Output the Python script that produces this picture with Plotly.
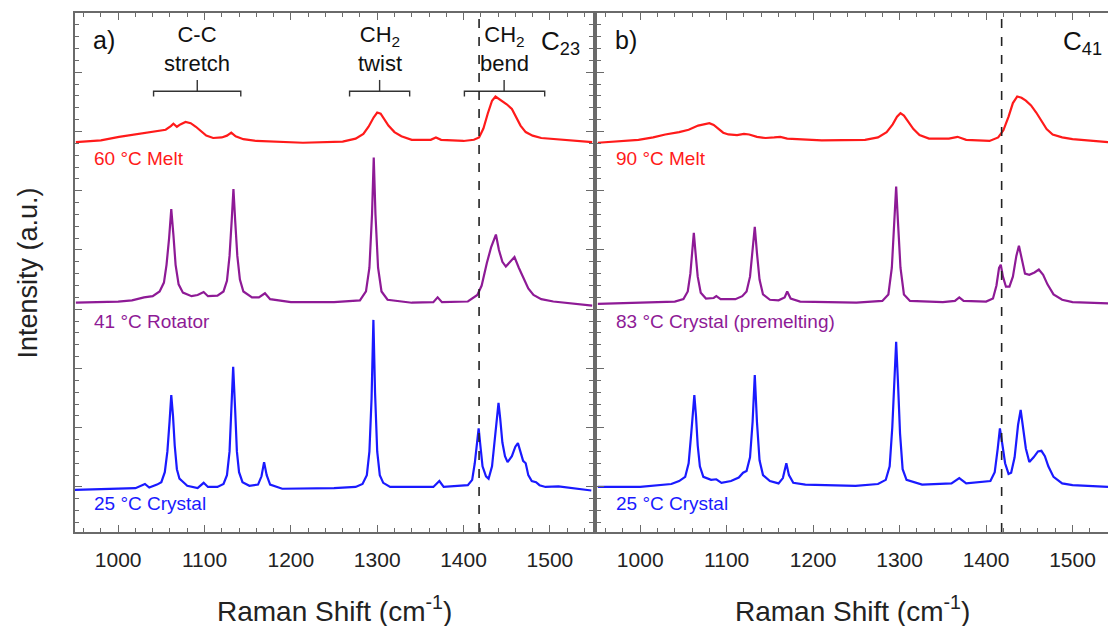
import plotly.graph_objects as go

# ---------------- data (Raman shift in cm-1, intensity in a.u. with vertical offsets) ----------------
# Panel a) C23 — 60 °C melt
a_melt_x = [951, 980, 1001, 1024, 1045, 1055, 1061, 1064, 1068, 1072, 1078, 1084, 1090, 1096, 1102,
            1110, 1120, 1126, 1131, 1136, 1145, 1160, 1214, 1260, 1275, 1284, 1290, 1296, 1300, 1304,
            1308, 1313, 1320, 1328, 1340, 1362, 1368, 1374, 1400, 1412, 1418, 1423, 1428, 1433, 1437,
            1441, 1445, 1450, 1456, 1461, 1466, 1472, 1480, 1490, 1505, 1549]
a_melt_y = [5.82, 5.85, 5.91, 5.96, 6.00, 6.03, 6.09, 6.13, 6.08, 6.12, 6.16, 6.14, 6.08, 6.00, 5.93,
            5.89, 5.90, 5.93, 5.98, 5.92, 5.87, 5.84, 5.81, 5.83, 5.88, 5.96, 6.08, 6.24, 6.32, 6.30,
            6.22, 6.10, 5.99, 5.92, 5.86, 5.86, 5.90, 5.86, 5.84, 5.86, 5.90, 6.05, 6.30, 6.52, 6.59,
            6.55, 6.50, 6.46, 6.38, 6.25, 6.10, 5.99, 5.93, 5.89, 5.87, 5.82]

# Panel a) C23 — 41 °C rotator
a_rot_x = [951, 1000, 1016, 1030, 1040, 1048, 1053, 1056, 1059, 1061.5, 1064, 1066.5, 1070, 1075,
           1085, 1092, 1099, 1104, 1115, 1122, 1126, 1129, 1131.5, 1133.5, 1135.5, 1138, 1141, 1145,
           1155, 1163, 1170, 1176, 1200, 1250, 1280, 1287, 1291, 1294, 1296, 1298, 1301, 1305, 1312,
           1340, 1365, 1370, 1375, 1405, 1416, 1421, 1427, 1432, 1437.5, 1441, 1445, 1449, 1454,
           1459, 1464, 1469, 1475, 1481, 1490, 1504, 1549]
a_rot_y = [3.11, 3.13, 3.15, 3.20, 3.22, 3.30, 3.45, 3.75, 4.20, 4.69, 4.25, 3.75, 3.42, 3.28,
           3.22, 3.24, 3.29, 3.22, 3.23, 3.30, 3.48, 3.90, 4.50, 5.03, 4.50, 3.90, 3.50, 3.30,
           3.20, 3.20, 3.27, 3.17, 3.12, 3.12, 3.15, 3.30, 3.70, 4.60, 5.56, 4.60, 3.70, 3.30, 3.16,
           3.11, 3.12, 3.20, 3.12, 3.13, 3.24, 3.40, 3.78, 4.05, 4.26, 4.00, 3.80, 3.72, 3.80,
           3.88, 3.70, 3.55, 3.35, 3.24, 3.17, 3.13, 3.06]

# Panel a) C23 — 25 °C crystal
a_cry_x = [950, 1000, 1020, 1031, 1036, 1045, 1050, 1054, 1057, 1059.5, 1061.5, 1063.5, 1065.5, 1068,
           1071, 1074, 1080, 1092, 1099, 1104, 1115, 1122, 1126, 1129, 1131, 1133.2, 1135.5, 1137.5,
           1140, 1144, 1152, 1162, 1166, 1169, 1172, 1176, 1190, 1250, 1275, 1283, 1288, 1291, 1293.5,
           1295.6, 1297.5, 1300, 1303, 1307, 1315, 1365, 1372, 1377, 1405, 1410, 1413, 1415.5, 1417.5,
           1419.5, 1422, 1426, 1429, 1433, 1436, 1439, 1440.5, 1442.5, 1445, 1448, 1451, 1456, 1460,
           1463, 1466, 1469, 1472, 1475, 1479, 1484, 1488, 1495, 1510, 1548]
a_cry_y = [-0.05, -0.03, -0.02, 0.05, -0.01, 0.04, 0.08, 0.25, 0.60, 1.10, 1.55, 1.20, 0.70, 0.30,
           0.14, 0.10, 0.02, -0.02, 0.07, 0.00, 0.00, 0.05, 0.20, 0.60, 1.20, 2.03, 1.30, 0.60,
           0.25, 0.08, 0.02, 0.04, 0.18, 0.42, 0.20, 0.04, -0.03, -0.02, 0.00, 0.05, 0.20, 0.60, 1.50,
           2.82, 1.60, 0.60, 0.20, 0.07, 0.00, 0.00, 0.10, 0.00, 0.03, 0.12, 0.40, 0.80, 0.99,
           0.70, 0.35, 0.18, 0.14, 0.35, 0.80, 1.30, 1.42, 1.15, 0.75, 0.52, 0.42, 0.52, 0.68,
           0.74, 0.60, 0.44, 0.40, 0.20, 0.10, 0.08, 0.03, 0.00, 0.01, -0.06]

# Panel b) C41 — 90 °C melt
b_melt_x = [951, 980, 998, 1015, 1029, 1045, 1056, 1067, 1075, 1080, 1085, 1090, 1096, 1102, 1112,
            1120, 1126, 1135, 1145, 1155, 1162, 1170, 1210, 1260, 1275, 1285, 1292, 1297, 1301, 1305,
            1310, 1316, 1323, 1334, 1357, 1367, 1377, 1404, 1414, 1420, 1426, 1431, 1436, 1441, 1446,
            1452, 1458, 1464, 1470, 1477, 1488, 1500, 1541]
b_melt_y = [5.81, 5.84, 5.86, 5.90, 5.95, 5.99, 6.03, 6.10, 6.13, 6.14, 6.11, 6.05, 5.98, 5.95, 5.94,
            5.96, 5.95, 5.91, 5.89, 5.90, 5.91, 5.88, 5.85, 5.86, 5.90, 5.99, 6.12, 6.25, 6.31, 6.27,
            6.16, 6.04, 5.94, 5.88, 5.88, 5.91, 5.86, 5.84, 5.90, 6.02, 6.25, 6.48, 6.59, 6.57, 6.52,
            6.44, 6.32, 6.18, 6.04, 5.95, 5.90, 5.87, 5.82]

# Panel b) C41 — 83 °C crystal (premelting)
b_pre_x = [951, 1000, 1040, 1050, 1055, 1058, 1060.5, 1062, 1064, 1066.5, 1070, 1076, 1085, 1088, 1093,
           1110, 1118, 1123, 1127, 1130, 1132.5, 1135, 1138, 1142, 1150, 1160, 1167, 1170, 1174, 1185,
           1250, 1280, 1287, 1291, 1294, 1296, 1298, 1301, 1305, 1312, 1350, 1364, 1369, 1374, 1400,
           1408, 1412, 1415, 1417, 1419.5, 1423, 1427, 1431, 1435, 1438, 1441, 1445, 1450, 1456, 1461,
           1466, 1471, 1478, 1488, 1500, 1541]
b_pre_y = [3.09, 3.11, 3.13, 3.17, 3.30, 3.60, 4.00, 4.29, 3.95, 3.55, 3.28, 3.18, 3.19, 3.22, 3.17,
           3.17, 3.22, 3.30, 3.55, 3.95, 4.39, 3.95, 3.50, 3.25, 3.16, 3.15, 3.20, 3.30, 3.18, 3.13,
           3.11, 3.14, 3.25, 3.70, 4.50, 5.07, 4.50, 3.70, 3.25, 3.14, 3.12, 3.14, 3.20, 3.14, 3.13,
           3.18, 3.40, 3.70, 3.75, 3.55, 3.38, 3.38, 3.55, 3.90, 4.07, 3.85, 3.60, 3.58, 3.62, 3.67,
           3.58, 3.42, 3.25, 3.16, 3.12, 3.10]

# Panel b) C41 — 25 °C crystal
b_cry_x = [951, 1000, 1036, 1045, 1052, 1056, 1059, 1061, 1062.6, 1064.5, 1066.5, 1069, 1073, 1082,
           1088, 1094, 1105, 1114, 1119, 1123, 1127, 1130, 1132.5, 1135, 1138, 1142, 1150, 1160, 1165,
           1169, 1172, 1177, 1191, 1249, 1275, 1284, 1288.5, 1291.5, 1294, 1296, 1298, 1300.5, 1303.5,
           1308, 1326, 1360, 1369, 1377, 1405, 1410, 1413.5, 1416, 1418.5, 1422, 1426, 1429, 1433,
           1437, 1440, 1443, 1446, 1450, 1455, 1460, 1464, 1468, 1472, 1478, 1488, 1500, 1541]
b_cry_y = [0.00, 0.00, 0.05, 0.10, 0.17, 0.40, 0.90, 1.30, 1.55, 1.20, 0.70, 0.35, 0.17, 0.12,
           0.13, 0.07, 0.10, 0.16, 0.24, 0.27, 0.50, 1.10, 1.89, 1.10, 0.45, 0.20, 0.10, 0.06, 0.15,
           0.40, 0.20, 0.07, 0.04, 0.02, 0.05, 0.12, 0.35, 1.00, 1.90, 2.45, 1.80, 0.90, 0.30,
           0.12, 0.04, 0.06, 0.15, 0.06, 0.10, 0.25, 0.65, 0.99, 0.75, 0.40, 0.22, 0.24, 0.50,
           1.05, 1.30, 1.00, 0.65, 0.42, 0.50, 0.60, 0.61, 0.52, 0.35, 0.17, 0.06, 0.03, 0.00]

# labels
a_labels = ["60 °C Melt", "41 °C Rotator", "25 °C Crystal"]
b_labels = ["90 °C Melt", "83 °C Crystal (premelting)", "25 °C Crystal"]
label_y = [5.55, 2.80, -0.28]
x_ticks = [1000, 1100, 1200, 1300, 1400, 1500]
band_names = ["C-C<br>stretch", "CH<sub>2</sub><br>twist", "CH<sub>2</sub><br>bend"]
band_centers = [1091.6, 1302.8, 1447]
band_lo = [1041, 1268, 1401]
band_hi = [1142, 1337.6, 1494]
dashed_x = 1418

colors = ["#ff1a1a", "#8e1a96", "#1a1aff"]
FONT = "Arial, Liberation Sans, sans-serif"

fig = go.Figure()
for xs, ys, c in [(a_melt_x, a_melt_y, colors[0]), (a_rot_x, a_rot_y, colors[1]), (a_cry_x, a_cry_y, colors[2])]:
    fig.add_trace(go.Scatter(x=xs, y=ys, mode="lines", line=dict(color=c, width=2.2), xaxis="x", yaxis="y",
                             showlegend=False, hoverinfo="skip"))
for xs, ys, c in [(b_melt_x, b_melt_y, colors[0]), (b_pre_x, b_pre_y, colors[1]), (b_cry_x, b_cry_y, colors[2])]:
    fig.add_trace(go.Scatter(x=xs, y=ys, mode="lines", line=dict(color=c, width=2.2), xaxis="x2", yaxis="y2",
                             showlegend=False, hoverinfo="skip"))

axcol = "#6a6a6a"
xcommon = dict(showline=True, linecolor=axcol, linewidth=1.5, mirror="allticks", ticks="inside",
               ticklen=7, tickwidth=1.2, tickcolor=axcol, tickvals=x_ticks, showgrid=False, zeroline=False,
               tickfont=dict(family=FONT, size=21, color="#222"), ticklabelstandoff=8,
               minor=dict(dtick=20, tick0=0, ticks="inside", ticklen=4, tickcolor=axcol, tickwidth=1))
ycommon = dict(showline=True, linecolor=axcol, linewidth=1.5, ticks="inside",
               ticklen=7, tickwidth=1.2, tickcolor=axcol, dtick=1, tick0=0, showticklabels=False,
               showgrid=False, zeroline=False, range=[-0.76, 8.0],
               minor=dict(dtick=0.2, tick0=0, ticks="inside", ticklen=4, tickcolor=axcol, tickwidth=1))

fig.update_layout(
    width=1108, height=626, paper_bgcolor="white", plot_bgcolor="white",
    margin=dict(l=75, r=0, t=13, b=94),
    xaxis=dict(domain=[0, 0.5015], range=[950, 1550], anchor="y", **xcommon),
    yaxis=dict(domain=[0, 1], anchor="x", mirror="allticks", **ycommon),
    xaxis2=dict(domain=[0.5053, 1.0], range=[950, 1541], anchor="y2", **xcommon),
    yaxis2=dict(domain=[0, 1], anchor="x2", mirror=False, **ycommon),
)

ann = []
ann.append(dict(x=968, y=7.55, xref="x", yref="y", text="a)", showarrow=False, xanchor="left",
                font=dict(family=FONT, size=25, color="#111")))
ann.append(dict(x=969, y=7.55, xref="x2", yref="y2", text="b)", showarrow=False, xanchor="left",
                font=dict(family=FONT, size=25, color="#111")))
ann.append(dict(x=1487, y=7.50, xref="x", yref="y", text="C<sub>23</sub>", showarrow=False, xanchor="left",
                font=dict(family=FONT, size=26, color="#111")))
ann.append(dict(x=1487, y=7.50, xref="x2", yref="y2", text="C<sub>41</sub>", showarrow=False, xanchor="left",
                font=dict(family=FONT, size=26, color="#111")))
for name, cx in zip(band_names, band_centers):
    ann.append(dict(x=cx, y=7.40, xref="x", yref="y", text=name, showarrow=False,
                    font=dict(family=FONT, size=22, color="#111"), align="center"))
for i in range(3):
    ann.append(dict(x=970, y=label_y[i], xref="x", yref="y", text=a_labels[i], showarrow=False,
                    xanchor="left", font=dict(family=FONT, size=19, color=colors[i])))
    ann.append(dict(x=970, y=label_y[i], xref="x2", yref="y2", text=b_labels[i], showarrow=False,
                    xanchor="left", font=dict(family=FONT, size=19, color=colors[i])))
ann.append(dict(x=-0.0455, y=0.50, xref="paper", yref="paper", text="Intensity (a.u.)", textangle=-90,
                xanchor="center", yanchor="middle",
                showarrow=False, font=dict(family=FONT, size=27, color="#222")))
for dom in ("x domain", "x2 domain"):
    ann.append(dict(x=0.5, y=-0.148, xref=dom, yref="paper", text="Raman Shift (cm<sup>-1</sup>)",
                    showarrow=False, yanchor="middle", font=dict(family=FONT, size=28, color="#222")))
fig.update_layout(annotations=ann)

shapes = []
bracket_top, bracket_bot, bracket_tip = 6.68, 6.59, 6.87
for lo, hi, cx in zip(band_lo, band_hi, band_centers):
    shapes.append(dict(type="path", xref="x", yref="y",
                       path=f"M {lo},{bracket_bot} L {lo},{bracket_top} L {hi},{bracket_top} L {hi},{bracket_bot}",
                       line=dict(color="#333", width=1.4)))
    shapes.append(dict(type="line", xref="x", yref="y", x0=cx, x1=cx, y0=bracket_top, y1=bracket_tip,
                       line=dict(color="#333", width=1.4)))
for xr, yr in (("x", "y domain"), ("x2", "y2 domain")):
    shapes.append(dict(type="line", xref=xr, yref=yr, x0=dashed_x, x1=dashed_x, y0=0, y1=1,
                       line=dict(color="#222", width=1.6, dash="dash")))
fig.update_layout(shapes=shapes)

fig.write_html("out.html", config={"displayModeBar": False},
               post_script="document.body.style.margin='0';document.body.style.overflow='hidden';")
